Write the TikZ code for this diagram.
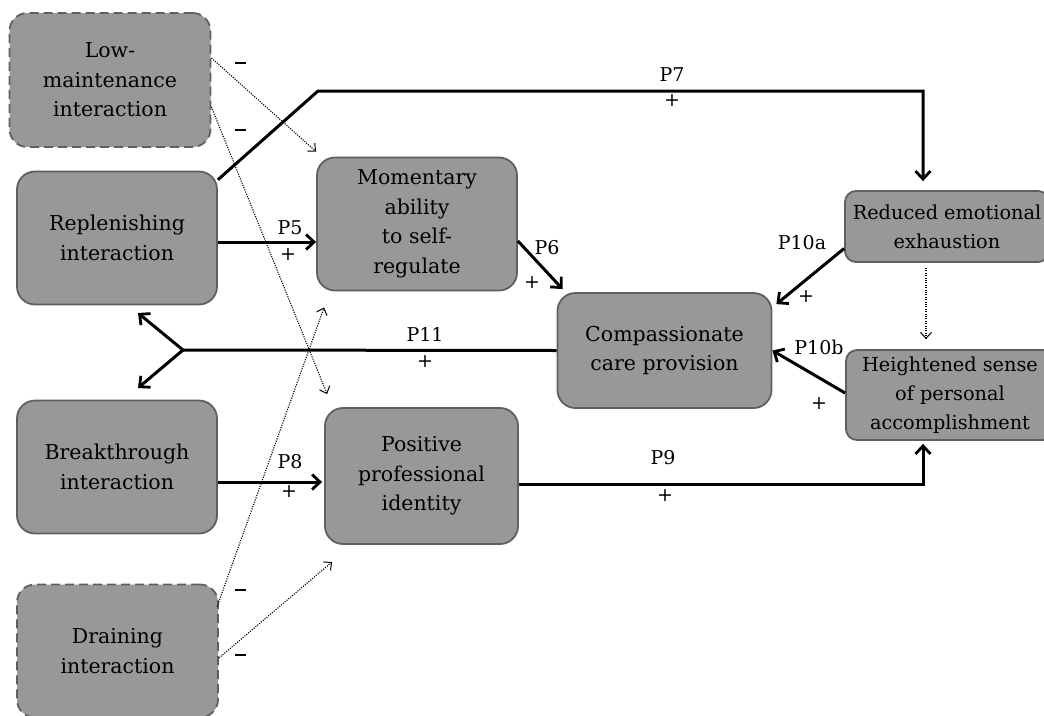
\documentclass[tikz,border=0pt]{standalone}
\usepackage{fontspec}
\setmainfont{DejaVu Serif}
\usetikzlibrary{arrows.meta,calc}
\definecolor{boxfill}{RGB}{152,152,152}
\definecolor{boxline}{RGB}{95,95,95}
\begin{document}
\begin{tikzpicture}[x=1pt,y=-1pt,
  box/.style={draw=boxline,fill=boxfill,line width=1.8pt,rounded corners=18pt,align=center,inner sep=0pt,font=\fontsize{20.5}{29.5}\selectfont},
  sbox/.style={box,rounded corners=11pt,font=\fontsize{19.3}{29}\selectfont},
  dbox/.style={box,dash pattern=on 9pt off 5pt},
  thickline/.style={line width=3pt,line join=miter},
  thickarrow/.style={thickline,-{Straight Barb[length=8pt,width=15pt,line width=2.8pt]}},
  dotarrow/.style={line width=1.1pt,dash pattern=on 1.1pt off 1.3pt,-{Straight Barb[length=6pt,width=11pt,line width=1pt]}},
  lbl/.style={inner sep=0pt,font=\fontsize{19}{22}\selectfont}
]
\useasboundingbox (0,0) rectangle (1044,715);
\clip (0,0) rectangle (1044,715);

% boxes
\node[dbox,minimum width=201pt,minimum height=134pt] (low) at (110,80) {Low-\\maintenance\\interaction};
\node[box,minimum width=200pt,minimum height=133pt] (rep) at (117,238) {Replenishing\\interaction};
\node[box,minimum width=200pt,minimum height=133pt] (brk) at (117,467) {Breakthrough\\interaction};
\node[dbox,minimum width=201pt,minimum height=133pt] (drn) at (117.5,651) {Draining\\interaction};
\node[box,minimum width=200pt,minimum height=133pt] (mom) at (417,224) {Momentary\\ability\\to self-\\regulate};
\node[box,minimum width=193pt,minimum height=136pt] (pos) at (421.5,476) {Positive\\professional\\identity};
\node[box,minimum width=214pt,minimum height=115pt] (comp) at (664.5,350.5) {Compassionate\\care provision};
\node[sbox,minimum width=204pt,minimum height=71pt] (red) at (947,226.5) {Reduced emotional\\exhaustion};
\node[sbox,minimum width=208pt,minimum height=90pt] (heig) at (950,395) {Heightened sense\\of personal\\accomplishment};

% bend coordinates
\coordinate (c7a) at (318,91);
\coordinate (c7b) at (923,91);
\coordinate (c9) at (923,484);
\coordinate (c11) at (183,350);
\coordinate (t11a) at (138,313);
\coordinate (t11b) at (138,388);

% thick connectors
\draw[thickarrow] (rep.30) -- (c7a) -- (c7b) -- ($(c7b |- red.north)+(0,-9)$);
\draw[thickarrow] ($(rep.east)+(0,4)$) -- ($(mom.west |- rep.east)+(0,4)$);
\draw[thickarrow] ($(mom.east)+(0,17)$) -- ($(comp.north west)+(6,-3)$);
\draw[thickarrow] ($(red.west)+(0,22)$) -- ($(comp.north east)+(4,12)$);
\draw[thickarrow] ($(heig.west)+(0,-2)$) -- (comp.east);
\draw[thickline] (comp.west) -- (c11);
\draw[thickarrow] (c11) -- (t11a);
\draw[thickarrow] (c11) -- (t11b);
\draw[thickarrow] ($(brk.east)+(0,15)$) -- ($(pos.west |- brk.east)+(-2,15)$);
\draw[thickarrow] (pos.east |- c9) -- (c9) -- ($(c9 |- heig.south)+(0,3)$);

% dotted connectors
\draw[dotarrow] ($(low.east)+(0,-22)$) -- ($(mom.north west)+(0,-5)$);
\draw[dotarrow] ($(low.east)+(0,27)$) -- ($(pos.north west)+(3,-13)$);
\draw[dotarrow] ($(drn.west |- drn.north)+(201,23)$) -- ($(mom.south west)+(8,16)$);
\draw[dotarrow] ($(drn.east)+(0,7)$) -- ($(pos.south west)+(8,17)$);
\draw[dotarrow] ($(red.south)+(-21,5)$) -- ($(heig.north)+(-24,-10)$);

% labels
\node[lbl] (lp7) at (672,75) {P7};
\node[lbl] (lp7s) at (672,101) {+};
\node[lbl] (lp5) at (290,228) {P5};
\node[lbl] (lp5s) at (288,255) {+};
\node[lbl] (lp6) at (547,248) {P6};
\node[lbl] (lp6s) at (532,283) {+};
\node[lbl] (lp10a) at (802,243) {P10a};
\node[lbl] (lp10as) at (806,297) {+};
\node[lbl] (lp10b) at (819,347) {P10b};
\node[lbl] (lp10bs) at (819,404) {+};
\node[lbl] (lp11) at (425,334) {P11};
\node[lbl] (lp11s) at (425,362) {+};
\node[lbl] (lp8) at (290,462) {P8};
\node[lbl] (lp8s) at (289,492) {+};
\node[lbl] (lp9) at (663,458) {P9};
\node[lbl] (lp9s) at (665,496) {+};
\node[lbl] (m1) at (240,63) {\rule{11pt}{1.1pt}};
\node[lbl] (m2) at (240,130) {\rule{11pt}{1.1pt}};
\node[lbl] (m3) at (240,590) {\rule{11pt}{1.1pt}};
\node[lbl] (m4) at (240,655) {\rule{11pt}{1.1pt}};
\end{tikzpicture}
\end{document}
